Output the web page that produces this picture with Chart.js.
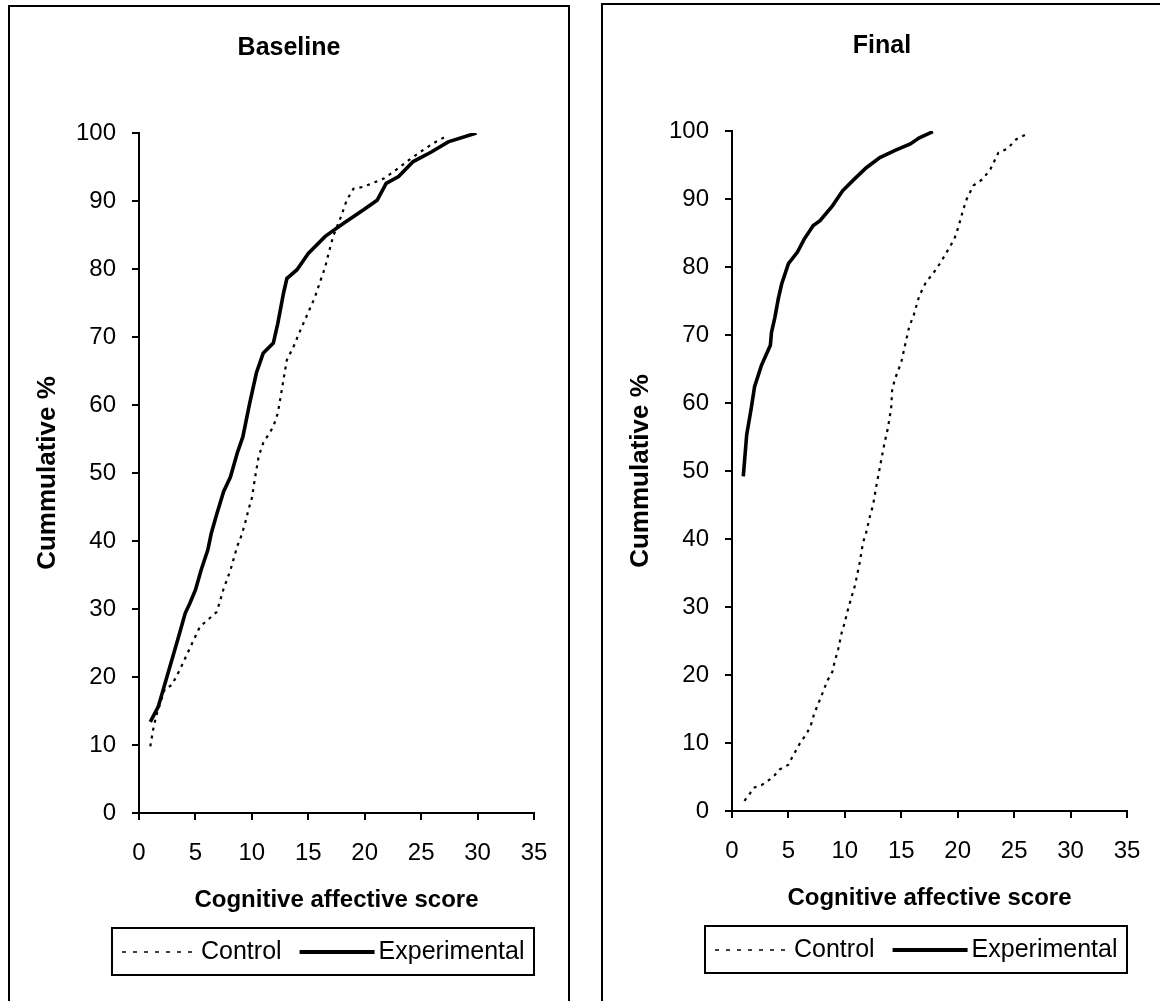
<!DOCTYPE html>
<html>
<head>
<meta charset="utf-8">
<title>Cumulative cognitive affective score</title>
<script src="https://cdn.jsdelivr.net/npm/chart.js@4.4.1/dist/chart.umd.min.js"></script>
<style>
  body { margin: 0; background: #fff; width: 1160px; height: 1001px; overflow: hidden; position: relative; }
  .panel { position: absolute; width: 562px; height: 1100px; border: 2px solid #000; box-sizing: border-box; background: #fff; }
  .panel canvas { position: absolute; left: 0; top: 0; }
</style>
</head>
<body>
<div class="panel" style="left:8px; top:5px;"><canvas id="baselineChart" width="558" height="994"></canvas></div>
<div class="panel" style="left:601px; top:3px;"><canvas id="finalChart" width="558" height="994"></canvas></div>
<script>
// values (score, cumulative %)
const seriesNames = ['Control', 'Experimental'];
const xTicks = [0, 5, 10, 15, 20, 25, 30, 35];
const yTicks = [0, 10, 20, 30, 40, 50, 60, 70, 80, 90, 100];

const baseControlScore = [1.0, 1.3, 1.6, 2.3, 2.9, 3.6, 4.5, 5.4, 6.1, 6.9, 7.5, 8.1, 8.7, 9.1, 9.4, 9.7, 10.0, 10.3, 10.6, 11.0, 11.9, 12.3, 12.6, 12.9, 13.1, 13.7, 14.3, 15.1, 15.6, 16.0, 16.5, 16.8, 17.2, 17.9, 18.4, 19.0, 19.9, 21.7, 22.8, 23.9, 24.9, 26.1, 27.3];
const baseControlPct = [9.8, 12.7, 14.7, 18.3, 18.8, 21.0, 24.2, 27.4, 28.4, 29.6, 33.0, 35.7, 39.2, 40.9, 42.6, 44.6, 46.3, 49.5, 52.4, 54.4, 56.8, 58.8, 61.7, 64.7, 66.6, 68.6, 71.0, 74.0, 75.9, 77.9, 80.3, 82.3, 84.8, 87.7, 90.1, 91.8, 92.1, 93.3, 94.6, 96.0, 97.2, 98.5, 99.6];

const baseExpScore = [1.0, 1.7, 2.4, 3.0, 3.5, 4.1, 4.5, 5.0, 5.5, 6.1, 6.4, 6.9, 7.5, 8.1, 8.7, 9.2, 9.8, 10.4, 11.0, 11.9, 12.3, 12.8, 13.1, 14.0, 15.0, 16.5, 18.1, 19.9, 21.1, 21.9, 23.0, 24.3, 25.9, 27.4, 29.9];
const baseExpPct = [13.4, 15.6, 19.6, 23.0, 25.9, 29.4, 30.8, 32.8, 35.7, 38.7, 41.1, 44.0, 47.3, 49.4, 52.9, 55.3, 60.2, 64.7, 67.6, 69.1, 72.0, 76.4, 78.6, 79.9, 82.3, 84.8, 86.7, 88.7, 90.1, 92.6, 93.6, 95.8, 97.2, 98.7, 100];

const finalControlScore = [1.1, 1.6, 1.9, 2.6, 3.1, 3.8, 4.2, 5.0, 5.3, 5.7, 6.1, 6.6, 7.0, 7.3, 7.6, 7.9, 8.2, 8.5, 8.9, 9.1, 9.4, 9.7, 10.0, 10.3, 10.6, 10.9, 11.3, 11.6, 11.9, 12.2, 12.5, 12.8, 13.2, 13.5, 13.8, 14.1, 14.2, 14.5, 15.0, 15.4, 15.7, 16.1, 16.6, 17.2, 17.8, 18.5, 19.1, 19.7, 20.1, 20.5, 20.8, 21.4, 22.2, 22.9, 23.6, 24.4, 25.2, 26.3];
const finalControlPct = [1.5, 2.6, 3.4, 3.8, 4.3, 5.3, 6.1, 6.8, 7.8, 9.0, 10.2, 11.3, 12.7, 14.4, 15.6, 16.8, 18.1, 19.3, 20.5, 22.0, 23.7, 26.1, 27.8, 29.8, 31.5, 33.2, 36.4, 39.4, 41.0, 43.2, 45.0, 47.9, 51.4, 54.0, 56.2, 59.2, 62.1, 63.8, 66.0, 69.0, 71.2, 72.9, 75.8, 77.8, 79.0, 80.7, 82.4, 84.1, 86.1, 88.5, 90.0, 92.0, 92.9, 94.4, 96.8, 97.4, 98.8, 99.7];

const finalExpScore = [1.0, 1.3, 1.7, 2.0, 2.6, 3.4, 3.5, 3.8, 4.1, 4.4, 5.0, 5.8, 6.4, 7.2, 7.8, 8.9, 9.8, 10.7, 11.9, 13.1, 14.5, 15.8, 16.6, 17.8];
const finalExpPct = [49.2, 55.3, 59.2, 62.4, 65.5, 68.5, 70.4, 72.6, 75.3, 77.5, 80.5, 82.2, 84.1, 86.1, 86.8, 89.0, 91.2, 92.7, 94.6, 96.1, 97.2, 98.1, 99.0, 99.9];

Chart.defaults.font.family = "'Liberation Sans', Arial, sans-serif";
Chart.defaults.color = '#000';

function toPoints(xs, ys) {
    return xs.map((x, i) => ({ x: x, y: ys[i] }));
}

// boxed legend under the x axis title
const boxedLegend = {
    id: 'boxedLegend',
    afterDraw(chart) {
        const ctx = chart.ctx;
        const xs = chart.scales.x;
        const top = xs.bottom + 5;
        const left = xs.left - 27;
        ctx.save();
        ctx.strokeStyle = '#000';
        ctx.lineWidth = 2;
        ctx.strokeRect(left, top, xs.right - left, 47);
        ctx.font = "25px 'Liberation Sans', Arial, sans-serif";
        ctx.fillStyle = '#000';
        ctx.textBaseline = 'middle';
        let cx = xs.left - 17;
        const cy = top + 24;
        chart.data.datasets.forEach(ds => {
            ctx.beginPath();
            ctx.setLineDash(ds.legendDash);
            ctx.lineWidth = ds.legendWidth;
            ctx.moveTo(cx, cy);
            ctx.lineTo(cx + 75, cy);
            ctx.stroke();
            ctx.setLineDash([]);
            ctx.fillText(ds.label, cx + 79, cy);
            cx += 79 + ctx.measureText(ds.label).width + 18;
        });
        ctx.restore();
    }
};

function createChart(id, title, control, experimental) {
    const ctx = document.getElementById(id).getContext('2d');
    return new Chart(ctx, {
        type: 'line',
        data: {
            datasets: [{
                label: seriesNames[0],
                data: control,
                borderColor: '#000',
                borderWidth: 2.2,
                borderDash: [3, 5],
                pointRadius: 0,
                tension: 0,
                legendDash: [4, 7],
                legendWidth: 1.5
            }, {
                label: seriesNames[1],
                data: experimental,
                borderColor: '#000',
                borderWidth: 3.6,
                pointRadius: 0,
                tension: 0,
                legendDash: [],
                legendWidth: 4
            }]
        },
        options: {
            responsive: false,
            animation: false,
            layout: { padding: { top: 0, left: 0, right: 0, bottom: 78 } },
            plugins: {
                legend: { display: false },
                tooltip: { enabled: false },
                title: {
                    display: true,
                    text: title,
                    color: '#000',
                    font: { size: 25, weight: 'bold' },
                    padding: { top: 26, bottom: 70 }
                }
            },
            scales: {
                x: {
                    type: 'linear',
                    min: xTicks[0],
                    max: xTicks[xTicks.length - 1],
                    afterBuildTicks: s => { s.ticks = xTicks.map(v => ({ value: v })); },
                    ticks: { font: { size: 24 }, color: '#000', padding: 19 },
                    grid: { drawOnChartArea: false, drawTicks: true, tickLength: 7, color: '#000', lineWidth: 2 },
                    border: { color: '#000', width: 2 },
                    title: {
                        display: true,
                        text: 'Cognitive affective score',
                        color: '#000',
                        font: { size: 24, weight: 'bold' },
                        padding: { top: 0, bottom: 8 }
                    },
                    afterFit: s => { s.height = 110; }
                },
                y: {
                    min: yTicks[0],
                    max: yTicks[yTicks.length - 1],
                    afterBuildTicks: s => { s.ticks = yTicks.map(v => ({ value: v })); },
                    ticks: { font: { size: 24 }, color: '#000', padding: 16 },
                    grid: { drawOnChartArea: false, drawTicks: true, tickLength: 7, color: '#000', lineWidth: 2 },
                    border: { color: '#000', width: 2 },
                    title: {
                        display: true,
                        text: 'Cummulative %',
                        color: '#000',
                        font: { size: 26, weight: 'bold' },
                        padding: { top: 22, bottom: 0 }
                    },
                    afterFit: s => { s.width = 129; }
                },
                // empty right-hand spacer so the title stays centred on the panel
                spacer: {
                    position: 'right',
                    min: 0,
                    max: 1,
                    grid: { display: false },
                    border: { display: false },
                    ticks: { display: false },
                    afterFit: s => { s.width = 34; }
                }
            }
        },
        plugins: [boxedLegend]
    });
}

createChart('baselineChart', 'Baseline',
    toPoints(baseControlScore, baseControlPct),
    toPoints(baseExpScore, baseExpPct));
createChart('finalChart', 'Final',
    toPoints(finalControlScore, finalControlPct),
    toPoints(finalExpScore, finalExpPct));
</script>
</body>
</html>
